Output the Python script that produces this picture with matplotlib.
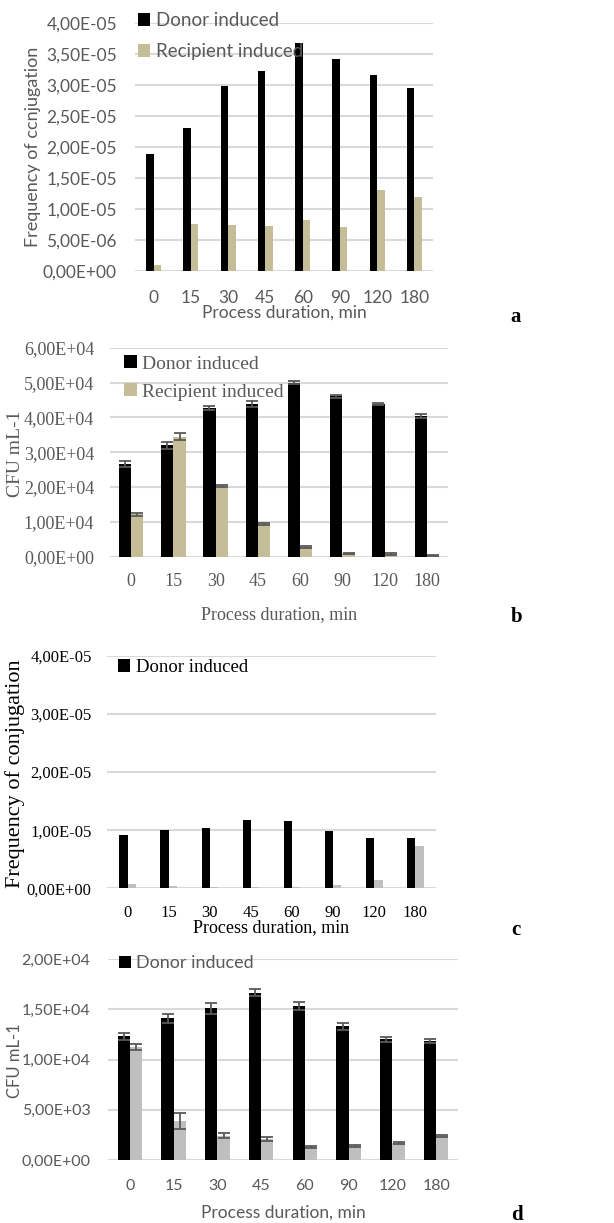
import numpy as np
import matplotlib.pyplot as plt
from matplotlib.ticker import FuncFormatter

W, H = 614, 1223
DPI = 100

times = ['0', '15', '30', '45', '60', '90', '120', '180']

# a: frequency of conjugation, heat induction
freq_donor_a = [1.89e-5, 2.30e-5, 2.98e-5, 3.22e-5, 3.68e-5, 3.41e-5, 3.15e-5, 2.95e-5]
freq_recip_a = [0.09e-5, 0.76e-5, 0.74e-5, 0.72e-5, 0.82e-5, 0.71e-5, 1.30e-5, 1.19e-5]

# b: CFU counts
cfu_donor_b = [2.66e4, 3.20e4, 4.28e4, 4.38e4, 4.99e4, 4.61e4, 4.38e4, 4.04e4]
cfu_donor_b_err = [0.08e4, 0.10e4, 0.06e4, 0.08e4, 0.04e4, 0.04e4, 0.03e4, 0.06e4]
cfu_recip_b = [1.22e4, 3.44e4, 2.02e4, 0.94e4, 0.28e4, 0.10e4, 0.08e4, 0.03e4]
cfu_recip_b_err = [0.04e4, 0.10e4, 0.03e4, 0.03e4, 0.03e4, 0.02e4, 0.02e4, 0.01e4]

# c: frequency of conjugation, second strain
freq_donor_c = [0.92e-5, 1.01e-5, 1.04e-5, 1.17e-5, 1.16e-5, 0.99e-5, 0.86e-5, 0.86e-5]
freq_recip_c = [0.08e-5, 0.04e-5, 0.03e-5, 0.03e-5, 0.02e-5, 0.05e-5, 0.14e-5, 0.73e-5]

# d: CFU counts, second strain
cfu_donor_d = [1.23e4, 1.41e4, 1.51e4, 1.665e4, 1.53e4, 1.33e4, 1.20e4, 1.18e4]
cfu_donor_d_err = [330, 430, 560, 330, 410, 330, 280, 200]
cfu_recip_d = [1.12e4, 3880, 2420, 2060, 1260, 1390, 1660, 2390]
cfu_recip_d_err = [300, 800, 280, 180, 100, 100, 100, 60]

TAN = '#c4bd97'
LGREY = '#bfbfbf'
GRID = '#d9d9d9'
TXT = '#595959'
ERR = '#595959'

fig = plt.figure(figsize=(W / DPI, H / DPI), dpi=DPI)


def px_axes(x0, x1, ytop, ybot):
    return fig.add_axes([x0 / W, 1 - ybot / H, (x1 - x0) / W, (ybot - ytop) / H])


def sci_comma(v, pos):
    return ('%.2E' % v).replace('.', ',')


def panel(box, donor, recip, ymax, ystep, width, recip_color, font, tsize, tcolor,
          xpad, ypad, legend_xy, show_recip_label, dsize=None,
          derr=None, rerr=None, lspacing=0.5):
    ax = px_axes(*box)
    x = np.arange(len(times))
    ax.bar(x - width / 2, donor, width, color='black', label='Donor induced',
           yerr=derr, error_kw=dict(ecolor=ERR, elinewidth=1.3, capsize=4.5, capthick=1.3))
    ax.bar(x + width / 2, recip, width, color=recip_color,
           label='Recipient induced' if show_recip_label else '_nolegend_',
           yerr=rerr, error_kw=dict(ecolor=ERR, elinewidth=1.3, capsize=4.5, capthick=1.3))
    ax.set_xlim(-0.5, len(times) - 0.5)
    ax.set_ylim(0, ymax)
    ax.set_yticks(np.arange(0, ymax + ystep / 2, ystep))
    ax.yaxis.set_major_formatter(FuncFormatter(sci_comma))
    ax.set_xticks(x)
    ax.set_xticklabels(times)
    for s in ax.spines.values():
        s.set_visible(False)
    ax.grid(axis='y', color=GRID, linewidth=1.5)
    ax.set_axisbelow(True)
    ax.tick_params(length=0, labelsize=tsize, labelcolor=tcolor)
    ax.tick_params(axis='x', pad=xpad)
    ax.tick_params(axis='y', pad=ypad)
    for lab in ax.get_xticklabels() + ax.get_yticklabels():
        lab.set_family(font)
    leg = ax.legend(loc='center left', bbox_to_anchor=(legend_xy[0] / W, 1 - legend_xy[1] / H),
                    bbox_transform=fig.transFigure, frameon=False, borderpad=0,
                    borderaxespad=0, handlelength=0.65, handleheight=0.65,
                    handletextpad=0.3, labelspacing=lspacing,
                    prop=dict(family=font, size=dsize or tsize))
    for t in leg.get_texts():
        t.set_color(tcolor)
    return ax


SANS = 'Lato'
SERIF = 'Liberation Serif'

# a
panel((135, 433, 22.7, 270.7), freq_donor_a, freq_recip_a, 4e-5, 5e-6, 0.2, TAN,
      SANS, 12.5, TXT, 14, 13, (138, 36), True, dsize=13.5, lspacing=0.75)
fig.text(33 / W, 1 - 147 / H, 'Frequency of ccnjugation', rotation=90, ha='center',
         va='center', family=SANS, size=13, color=TXT)
fig.text(284 / W, 1 - 313 / H, 'Process duration, min', ha='center', va='center',
         family=SANS, size=12.5, color=TXT)
fig.text(516 / W, 1 - 317 / H, 'a', ha='center', va='center', family=SERIF,
         size=15, weight='bold')

# b
panel((110, 448, 347.7, 556.7), cfu_donor_b, cfu_recip_b, 6e4, 1e4, 0.29, TAN,
      SERIF, 13, TXT, 12, 11.5, (124, 378), True, dsize=14,
      derr=cfu_donor_b_err, rerr=cfu_recip_b_err, lspacing=0.55)
fig.text(15 / W, 1 - 454 / H, 'CFU mL-1', rotation=90, ha='center', va='center',
         family=SERIF, size=14, color=TXT)
fig.text(279 / W, 1 - 615 / H, 'Process duration, min', ha='center', va='center',
         family=SERIF, size=13, color=TXT)
fig.text(517 / W, 1 - 617 / H, 'b', ha='center', va='center', family=SERIF,
         size=15, weight='bold')

# c
panel((107, 436, 655.7, 888.3), freq_donor_c, freq_recip_c, 4e-5, 1e-5, 0.2, LGREY,
      SERIF, 12, 'black', 12, 11, (118, 667.7), False, dsize=13.5)
fig.text(15 / W, 1 - 774 / H, 'Frequency of conjugation', rotation=90, ha='center',
         va='center', family=SERIF, size=16, color='black')
fig.text(271 / W, 1 - 928 / H, 'Process duration, min', ha='center', va='center',
         family=SERIF, size=13, color='black')
fig.text(516 / W, 1 - 930 / H, 'c', ha='center', va='center', family=SERIF,
         size=15, weight='bold')

# d
panel((108, 458, 959, 1160), cfu_donor_d, cfu_recip_d, 2e4, 5e3, 0.28, LGREY,
      SANS, 11.5, TXT, 14, 12.5, (119, 963), False, dsize=13,
      derr=cfu_donor_d_err, rerr=cfu_recip_d_err)
fig.text(15 / W, 1 - 1061 / H, 'CFU mL-1', rotation=90, ha='center', va='center',
         family=SANS, size=12, color=TXT)
fig.text(283 / W, 1 - 1213 / H, 'Process duration, min', ha='center', va='center',
         family=SANS, size=12.5, color=TXT)
fig.text(517 / W, 1 - 1215 / H, 'd', ha='center', va='center', family=SERIF,
         size=15, weight='bold')

fig.savefig('out.png', dpi=DPI)
